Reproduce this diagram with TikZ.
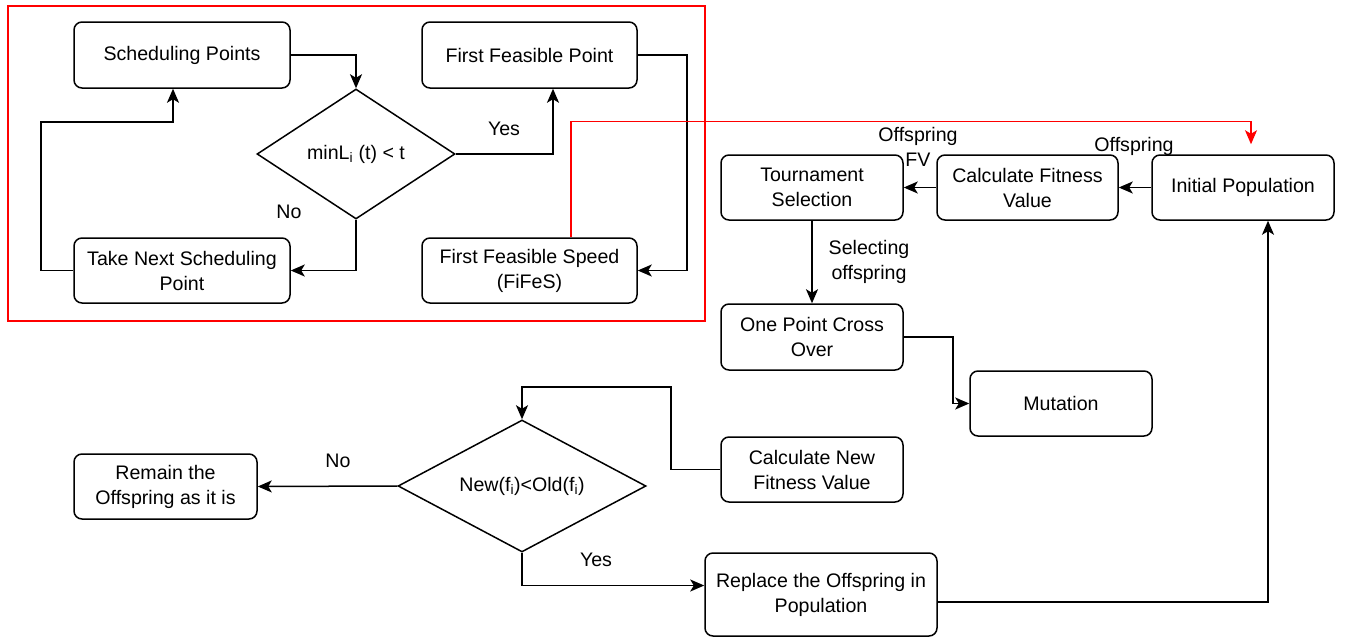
\documentclass[tikz,border=0pt]{standalone}
\usepackage{fontspec}
\setmainfont{Liberation Sans}
\usetikzlibrary{shapes.geometric,arrows.meta}
\begin{document}
\begin{tikzpicture}[x=1pt,y=-1pt,
  font=\fontsize{19.6}{25}\selectfont,
  box/.style={draw,rounded corners=8pt,line width=1.5pt,inner sep=0pt,align=center},
  dia/.style={draw,diamond,aspect=2,inner sep=0pt,line width=1.5pt},
  conn/.style={line width=1.5pt,-{Stealth[length=14pt,width=12pt,inset=3.5pt]}},
  redconn/.style={conn,draw=red,color=red},
  lbl/.style={inner sep=0pt,align=center}]
\useasboundingbox (0,0) rectangle (1345,637);
% red frame
\node[draw=red,line width=1.2pt,minimum width=697pt,minimum height=315pt,inner sep=0pt] (frame) at (356.5,163.5) {};
% top-left group
\node[box,minimum width=216pt,minimum height=66pt] (sp) at (182,55) {Scheduling Points};
\node[box,minimum width=215pt,minimum height=66pt] (ffp) at (529.5,55) {First Feasible Point};
\node[box,minimum width=216pt,minimum height=65pt] (tnsp) at (182,270.5) {Take Next Scheduling\\Point};
\node[box,minimum width=215pt,minimum height=65pt] (ffs) at (529.5,270.5) {First Feasible Speed\\(FiFeS)};
\node[dia,minimum width=198pt,minimum height=130pt] (d1) at (356,154) {minL\textsubscript{i} (t) {\textless} t};
% right group
\node[box,minimum width=182pt,minimum height=65pt] (ts) at (812,187.5) {Tournament\\Selection};
\node[box,minimum width=181pt,minimum height=65pt] (cfv) at (1027.5,187.5) {Calculate Fitness\\Value};
\node[box,minimum width=182pt,minimum height=65pt] (ip) at (1243,187.5) {Initial Population};
\node[box,minimum width=182pt,minimum height=66pt] (opco) at (812,337) {One Point Cross\\Over};
\node[box,minimum width=182pt,minimum height=65pt] (mut) at (1061,403.5) {Mutation};
\node[box,minimum width=182pt,minimum height=65pt] (cnfv) at (812,469.5) {Calculate New\\Fitness Value};
\node[dia,minimum width=248pt,minimum height=132pt] (d2) at (522,486) {New(f\textsubscript{i}){\textless}Old(f\textsubscript{i})};
\node[box,minimum width=183pt,minimum height=65pt] (rem) at (165.5,486.5) {Remain the\\Offspring as it is};
\node[box,minimum width=232pt,minimum height=83pt] (rep) at (821,594.5) {Replace the Offspring in\\Population};
% labels
\node[lbl] (lyes1) at (504,129) {Yes};
\node[lbl] (lno1) at (289,212) {No};
\node[lbl] (loff1) at (1134,146) {Offspring};
\node[lbl] (loff2) at (918,146.5) {Offspring\\FV};
\node[lbl] (lsel) at (869,262) {Selecting\\offspring};
\node[lbl] (lno2) at (338,461) {No};
\node[lbl] (lyes2) at (596,560) {Yes};
% connectors top-left
\draw[conn] (sp.east) -| (d1.north);
\draw[conn] (d1.east) -| ([xshift=23.5pt]ffp.south);
\draw[conn] (d1.south) |- (tnsp.east);
\draw[conn] (tnsp.west) -| (41,122) -| ([xshift=-9pt]sp.south);
\draw[conn] (ffp.east) -| (687,190) |- (ffs.east);
\draw[redconn,line width=1.3pt] ([xshift=41.5pt]ffs.north) |- ([xshift=8pt,yshift=33pt]ip.north) -- ([xshift=8pt,yshift=10pt]ip.north);
% connectors right
\draw[conn] (ip.west) -- (cfv.east);
\draw[conn] (cfv.west) -- (ts.east);
\draw[conn] (ts.south) -- (opco.north);
\draw[conn] (opco.east) -| (953,370) |- (mut.west);
\draw[conn] (cnfv.west) -| (671,387) -| (d2.north);
\draw[conn] (d2.west) -- (rem.east);
\draw[conn] (d2.south) |- ([yshift=9pt]rep.west);
\draw[conn] ([yshift=-7.5pt]rep.east) -| ([xshift=25pt]ip.south);
\end{tikzpicture}
\end{document}
